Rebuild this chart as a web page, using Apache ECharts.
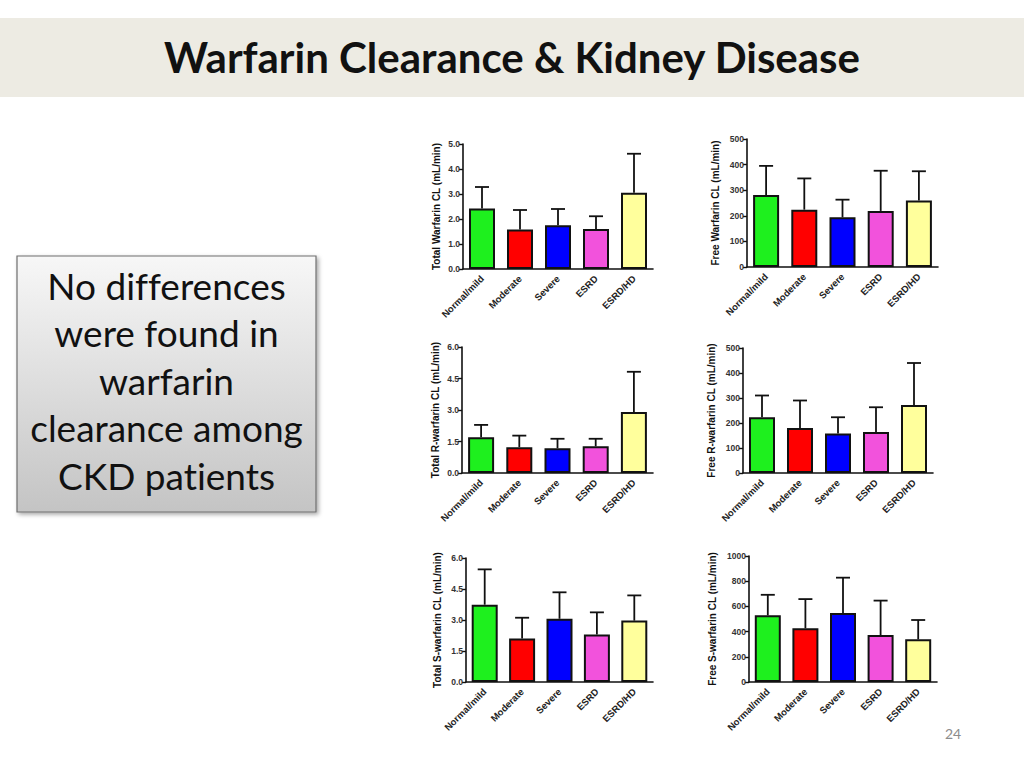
<!DOCTYPE html>
<html>
<head>
<meta charset="utf-8">
<script src="https://cdn.jsdelivr.net/npm/echarts@6/dist/echarts.min.js"></script>
<style>
html,body{margin:0;padding:0;background:#fff;}
#c{width:1024px;height:768px;}
#c text{font-variant-ligatures:none;font-feature-settings:"liga" 0,"clig" 0;}
</style>
</head>
<body>
<div id="c"></div>
<script>
// ---- data ----
const categories = ['Normal/mild', 'Moderate', 'Severe', 'ESRD', 'ESRD/HD'];
const barColors = ['#1ef01e', '#ff0000', '#0000ff', '#f252dc', '#ffff9c'];

const totalMean  = [2.42, 1.58, 1.75, 1.60, 3.05];
const totalUpper = [3.28, 2.36, 2.40, 2.11, 4.61];

const freeMean  = [281, 224, 194, 219, 260];
const freeUpper = [395, 346, 263, 376, 374];

const totalRMean  = [1.70, 1.23, 1.18, 1.27, 2.91];
const totalRUpper = [2.29, 1.78, 1.63, 1.63, 4.82];

const freeRMean  = [223, 180, 158, 164, 272];
const freeRUpper = [310, 290, 223, 263, 440];

const totalSMean  = [3.74, 2.10, 3.06, 2.30, 2.97];
const totalSUpper = [5.45, 3.11, 4.34, 3.37, 4.19];

const freeSMean  = [529, 426, 548, 373, 339];
const freeSUpper = [692, 658, 828, 646, 492];

const axisMax = [5, 500, 6, 500, 6, 1000];
const axisStep = [1, 100, 1.5, 100, 1.5, 200];
const axisDecimals = [1, 0, 1, 0, 1, 0];
const axisNames = [
  'Total Warfarin CL (mL/min)',
  'Free Warfarin CL (mL/min)',
  'Total R-warfarin CL (mL/min)',
  'Free R-warfarin CL (mL/min)',
  'Total S-warfarin CL (mL/min)',
  'Free S-warfarin CL (mL/min)'
];
const panels = [
  [totalMean, totalUpper], [freeMean, freeUpper],
  [totalRMean, totalRUpper], [freeRMean, freeRUpper],
  [totalSMean, totalSUpper], [freeSMean, freeSUpper]
];

// ---- layout ----
const grids = [
  {left: 463, top: 144, width: 190, height: 125},
  {left: 747, top: 139, width: 191, height: 128},
  {left: 462, top: 347, width: 191, height: 126},
  {left: 743, top: 348, width: 190, height: 125},
  {left: 466, top: 558, width: 187, height: 124},
  {left: 749, top: 556, width: 188, height: 126}
];
const nameGaps = [22, 27, 22, 27, 24, 32];
const FONT = 'Liberation Sans, Arial, sans-serif';

const xAxes = [], yAxes = [], series = [];
grids.forEach((g, i) => {
  xAxes.push({
    type: 'category', gridIndex: i, data: categories,
    axisLine: {lineStyle: {color: '#111', width: 1.6}},
    axisTick: {show: false},
    axisLabel: {rotate: 45, interval: 0, fontSize: 9.5, fontWeight: 'bold',
      fontFamily: FONT, color: '#222', margin: 8}
  });
  yAxes.push({
    type: 'value', gridIndex: i, min: 0, max: axisMax[i], interval: axisStep[i],
    name: axisNames[i], nameLocation: 'middle', nameGap: nameGaps[i],
    nameTextStyle: {fontSize: 10, fontWeight: 'bold', color: '#111', fontFamily: FONT},
    axisLine: {show: true, lineStyle: {color: '#111', width: 1.6}},
    axisTick: {show: true, length: 4, lineStyle: {color: '#111', width: 1.4}},
    splitLine: {show: false},
    axisLabel: {fontSize: 8.5, fontWeight: 'bold', color: '#333', margin: 3,
      fontFamily: FONT, formatter: v => v.toFixed(axisDecimals[i])}
  });
  const mean = panels[i][0], upper = panels[i][1];
  series.push({
    type: 'bar', xAxisIndex: i, yAxisIndex: i, barWidth: 26,
    data: mean.map((v, k) => ({value: v, itemStyle: {color: barColors[k]}})),
    itemStyle: {borderColor: '#111', borderWidth: 2},
    silent: true, animation: false
  });
  series.push({
    type: 'custom', xAxisIndex: i, yAxisIndex: i,
    data: mean.map((v, k) => [k, v, upper[k]]),
    encode: {x: 0, y: [1, 2]},
    renderItem: function (params, api) {
      const p0 = api.coord([api.value(0), api.value(1)]);
      const p1 = api.coord([api.value(0), api.value(2)]);
      const hw = 7;
      const st = {stroke: '#111', lineWidth: 1.8};
      return {type: 'group', children: [
        {type: 'line', shape: {x1: p0[0], y1: p0[1], x2: p1[0], y2: p1[1]}, style: st},
        {type: 'line', shape: {x1: p1[0] - hw, y1: p1[1], x2: p1[0] + hw, y2: p1[1]}, style: st}
      ]};
    },
    z: 1, silent: true, animation: false
  });
});

const chart = echarts.init(document.getElementById('c'), null, {renderer: 'svg'});
chart.setOption({
  animation: false,
  grid: grids.map(g => Object.assign({containLabel: false}, g)),
  xAxis: xAxes,
  yAxis: yAxes,
  series: series,
  graphic: [
    {type: 'rect', shape: {x: 0, y: 18, width: 1024, height: 79},
      style: {fill: '#edebe3'}, z: -10},
    {type: 'text', x: 512, y: 57,
      style: {text: 'Warfarin Clearance & Kidney Disease', fontFamily: 'Lato, sans-serif',
        fontWeight: 'bold', fontSize: 42, fill: '#111', align: 'center', verticalAlign: 'middle'}},
    {type: 'rect', shape: {x: 17, y: 256, width: 299, height: 256},
      style: {
        fill: new echarts.graphic.LinearGradient(0, 0, 0, 1, [
          {offset: 0, color: '#f7f7f7'}, {offset: 1, color: '#c4c4c4'}]),
        stroke: '#6f6f6f', lineWidth: 1.2,
        shadowBlur: 4, shadowOffsetX: 2, shadowOffsetY: 2, shadowColor: 'rgba(0,0,0,0.35)'
      }, z: -5},
    {type: 'text', x: 166.5, y: 380,
      style: {text: 'No differences\nwere found in\nwarfarin\nclearance among\nCKD patients',
        fontFamily: 'Lato, sans-serif', fontSize: 37, lineHeight: 47.5, fill: '#111',
        align: 'center', verticalAlign: 'middle'}},
    {type: 'text', x: 953, y: 733,
      style: {text: '24', fontFamily: 'Lato, sans-serif', fontSize: 14, fill: '#8c8c8c',
        align: 'center', verticalAlign: 'middle'}}
  ]
});
</script>
</body>
</html>
